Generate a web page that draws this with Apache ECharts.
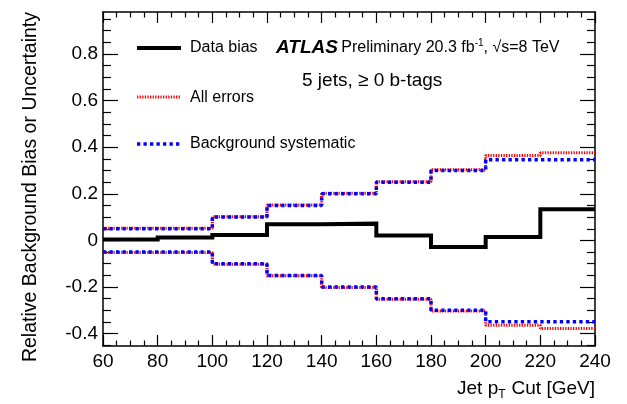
<!DOCTYPE html>
<html>
<head>
<meta charset="utf-8">
<script src="https://cdn.jsdelivr.net/npm/echarts@6/dist/echarts.min.js"></script>
<style>
html,body{margin:0;padding:0;background:#fff;}
#c{width:627px;height:404px;}
</style>
</head>
<body>
<div id="c"></div>
<script>
// Bin edges (Jet pT cut, GeV)
const binEdges = [60, 80, 100, 120, 140, 160, 180, 200, 220, 240];
// Values per bin
const dataBias = [0.004, 0.013, 0.023, 0.069, 0.072, 0.021, -0.028, 0.015, 0.134];
const allErrorsUp = [0.052, 0.052, 0.102, 0.152, 0.202, 0.252, 0.303, 0.364, 0.376];
const allErrorsDown = [-0.052, -0.052, -0.102, -0.152, -0.202, -0.252, -0.303, -0.364, -0.378];
const bkgSystUp = [0.05, 0.05, 0.1, 0.15, 0.2, 0.25, 0.3, 0.346, 0.346];
const bkgSystDown = [-0.05, -0.05, -0.1, -0.15, -0.2, -0.25, -0.3, -0.349, -0.349];
// Axis ticks
const yMajorTicks = [-0.4, -0.2, 0, 0.2, 0.4, 0.6, 0.8];
const yMinorTicks = [-0.45, -0.35, -0.3, -0.25, -0.15, -0.1, -0.05, 0.05, 0.1, 0.15, 0.25, 0.3, 0.35, 0.45, 0.5, 0.55, 0.65, 0.7, 0.75, 0.85, 0.9, 0.95];
const yMin = -0.453, yMax = 0.98;

function steps(vals) {
  const out = vals.map((v, i) => [binEdges[i], v]);
  out.push([binEdges[binEdges.length - 1], vals[vals.length - 1]]);
  return out;
}

const FONT = 'Liberation Sans, Arial, Helvetica, sans-serif';
const chart = echarts.init(document.getElementById('c'), null, {renderer: 'canvas'});

function xAx(pos, labels) {
  return {
    type: 'value', position: pos, min: 60, max: 240, interval: 20,
    axisLine: {show: true, onZero: false, lineStyle: {color: '#000', width: 1.5}},
    axisTick: {show: true, inside: true, length: 11, lineStyle: {color: '#000', width: 1.2}},
    minorTick: {show: true, splitNumber: 4, length: 5.5, lineStyle: {color: '#000', width: 1.2}},
    axisLabel: {show: labels, color: '#000', fontSize: 19, fontFamily: FONT, margin: 6},
    splitLine: {show: false}, minorSplitLine: {show: false}
  };
}
function yAx(pos, ticks, len, labels, line) {
  return {
    type: 'value', position: pos, min: yMin, max: yMax,
    axisLine: {show: line, onZero: false, lineStyle: {color: '#000', width: 1.5}},
    axisTick: {show: true, inside: true, length: len, customValues: ticks, lineStyle: {color: '#000', width: 1.2}},
    axisLabel: {show: labels, customValues: ticks, color: '#000', fontSize: 19, fontFamily: FONT, margin: 5,
      formatter: v => (Math.abs(v) < 1e-9 ? '0' : (+v).toFixed(1))},
    splitLine: {show: false}
  };
}

const option = {
  backgroundColor: '#fff',
  animation: false,
  grid: {left: 103, right: 32, top: 12, bottom: 58, containLabel: false},
  xAxis: [xAx('bottom', true), xAx('top', false)],
  yAxis: [
    yAx('left', yMajorTicks, 15, true, true),
    yAx('left', yMinorTicks, 8, false, false),
    yAx('right', yMajorTicks, 15, false, true),
    yAx('right', yMinorTicks, 8, false, false)
  ],
  series: [
    {type: 'line', step: 'end', data: steps(allErrorsUp), symbol: 'none', xAxisIndex: 0, yAxisIndex: 0,
      lineStyle: {color: '#ff0000', width: 3, type: [1.3, 1.3]}},
    {type: 'line', step: 'end', data: steps(allErrorsDown), symbol: 'none', xAxisIndex: 0, yAxisIndex: 0,
      lineStyle: {color: '#ff0000', width: 3, type: [1.3, 1.3]}},
    {type: 'line', step: 'end', data: steps(bkgSystUp), symbol: 'none', xAxisIndex: 0, yAxisIndex: 0,
      lineStyle: {color: '#0000ff', width: 3.5, type: [3.3, 3.2]}},
    {type: 'line', step: 'end', data: steps(bkgSystDown), symbol: 'none', xAxisIndex: 0, yAxisIndex: 0,
      lineStyle: {color: '#0000ff', width: 3.5, type: [3.3, 3.2]}},
    {type: 'line', step: 'end', data: steps(dataBias), symbol: 'none', xAxisIndex: 0, yAxisIndex: 0,
      lineStyle: {color: '#000', width: 4, join: 'miter', cap: 'butt'}}
  ],
  graphic: [
    // legend
    {type: 'line', shape: {x1: 137, y1: 48, x2: 181, y2: 48}, style: {stroke: '#000', lineWidth: 4}},
    {type: 'text', x: 190, y: 48, style: {text: 'Data bias', font: '16px ' + FONT, fill: '#000', textVerticalAlign: 'middle'}},
    {type: 'line', shape: {x1: 137, y1: 97, x2: 181, y2: 97}, style: {stroke: '#ff0000', lineWidth: 3, lineDash: [1.3, 1.3]}},
    {type: 'text', x: 190, y: 98, style: {text: 'All errors', font: '16px ' + FONT, fill: '#000', textVerticalAlign: 'middle'}},
    {type: 'line', shape: {x1: 137, y1: 144, x2: 181, y2: 144}, style: {stroke: '#0000ff', lineWidth: 3.5, lineDash: [3.3, 3.2]}},
    {type: 'text', x: 190, y: 144, style: {text: 'Background systematic', font: '16px ' + FONT, fill: '#000', textVerticalAlign: 'middle'}},
    // ATLAS label
    {type: 'text', x: 276, y: 48, style: {
      text: '{a|ATLAS} {b|Preliminary 20.3 fb}{s|-1}{b|, √s=8 TeV}',
      textVerticalAlign: 'middle',
      rich: {
        a: {font: 'italic bold 19px ' + FONT, fill: '#000'},
        b: {font: '16px ' + FONT, fill: '#000'},
        s: {font: '10px ' + FONT, fill: '#000', verticalAlign: 'top', padding: [0, 0, 8, 0]}
      }
    }},
    {type: 'text', x: 302, y: 81, style: {text: '5 jets, ≥ 0 b-tags', font: '19px ' + FONT, fill: '#000', textVerticalAlign: 'middle'}},
    // axis titles
    {type: 'text', x: 595, y: 389, style: {
      text: '{t|Jet p}{s|T}{t|Cut [GeV]}', textAlign: 'right', textVerticalAlign: 'middle',
      rich: {
        t: {font: '19px ' + FONT, fill: '#000'},
        s: {font: '12px ' + FONT, fill: '#000', padding: [12, 6, 0, 0]}
      }
    }},
    {type: 'text', x: 31, y: 12, rotation: Math.PI / 2, style: {
      text: 'Relative Background Bias or Uncertainty', font: '19.5px ' + FONT, fill: '#000',
      textAlign: 'right', textVerticalAlign: 'middle'
    }}
  ]
};
chart.setOption(option);
</script>
</body>
</html>
